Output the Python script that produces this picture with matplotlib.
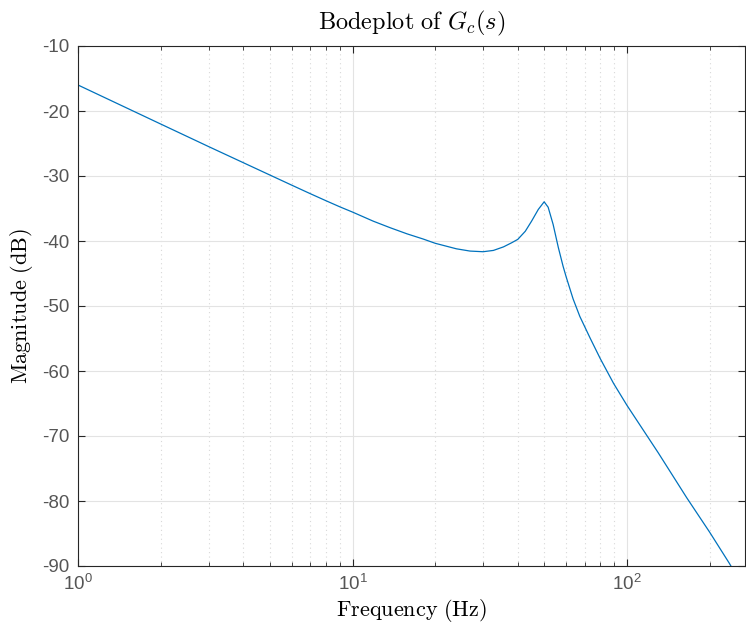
import numpy as np
import matplotlib
matplotlib.use('Agg')
import matplotlib.pyplot as plt
from matplotlib.ticker import LogLocator

plt.rcParams['font.family'] = ['Liberation Sans', 'DejaVu Sans']
plt.rcParams['mathtext.fontset'] = 'cm'
plt.rcParams['axes.unicode_minus'] = False

# magnitude
freq = [1, 2, 3, 4, 5, 6, 7, 8, 9, 10, 11.9, 13.7, 15.8, 18.1, 20, 23.9,
        26.8, 29.9, 32.6, 35.5, 38.0, 40.0, 42.6, 44.9, 47.5, 49.9, 51.6,
        53.8, 56.2, 58.5, 60.1, 63.6, 67.3, 73.5, 79.9, 89.3, 100, 130, 165,
        200, 236, 245]
mag = [-16.0, -22.0, -25.5, -27.95, -29.85, -31.4, -32.7, -33.8, -34.75,
       -35.55, -36.95, -37.95, -38.9, -39.7, -40.35, -41.2, -41.55, -41.65,
       -41.45, -40.9, -40.27, -39.75, -38.5, -36.95, -35.15, -33.97, -34.8,
       -37.45, -41.0, -43.9, -45.6, -48.9, -51.6, -55.0, -58.1, -61.9,
       -65.3, -72.6, -79.5, -84.8, -89.6, -90.8]

yticks = [-10, -20, -30, -40, -50, -60, -70, -80, -90]

fig = plt.figure(figsize=(7.46, 6.25), dpi=100)
ax = fig.add_axes([78 / 746, 1 - 566 / 625, 667 / 746, 520 / 625])

ax.semilogx(freq, mag, color='#0072BD', lw=0.9)
ax.set_xlim(1, 269)
ax.set_ylim(-90, -10)
ax.set_yticks(yticks)

ax.xaxis.set_major_locator(LogLocator(base=10))
ax.xaxis.set_minor_locator(LogLocator(base=10, subs=np.arange(2, 10)))
ax.xaxis.set_minor_formatter(plt.NullFormatter())

ax.grid(True, which='major', color='#e3e3e3', lw=0.8, ls='-')
ax.grid(True, which='minor', axis='x', color='#d8d8d8', lw=0.8, ls=(0, (1, 3)))
ax.set_axisbelow(True)

for s in ax.spines.values():
    s.set_color('#262626')
    s.set_linewidth(0.8)
ax.tick_params(which='both', direction='in', top=True, right=True,
               color='#262626', labelcolor='#555555', labelsize=13.5, pad=6)
ax.tick_params(which='major', length=5)
ax.tick_params(which='minor', length=3)

ax.set_title(r'$\mathrm{Bodeplot\ of\ }G_c(s)$', fontsize=17.5, pad=12)
ax.set_xlabel(r'$\mathrm{Frequency\ (Hz)}$', fontsize=16, labelpad=2)
ax.set_ylabel(r'$\mathrm{Magnitude\ (dB)}$', fontsize=16, labelpad=5)

fig.savefig('out.png', dpi=100)
